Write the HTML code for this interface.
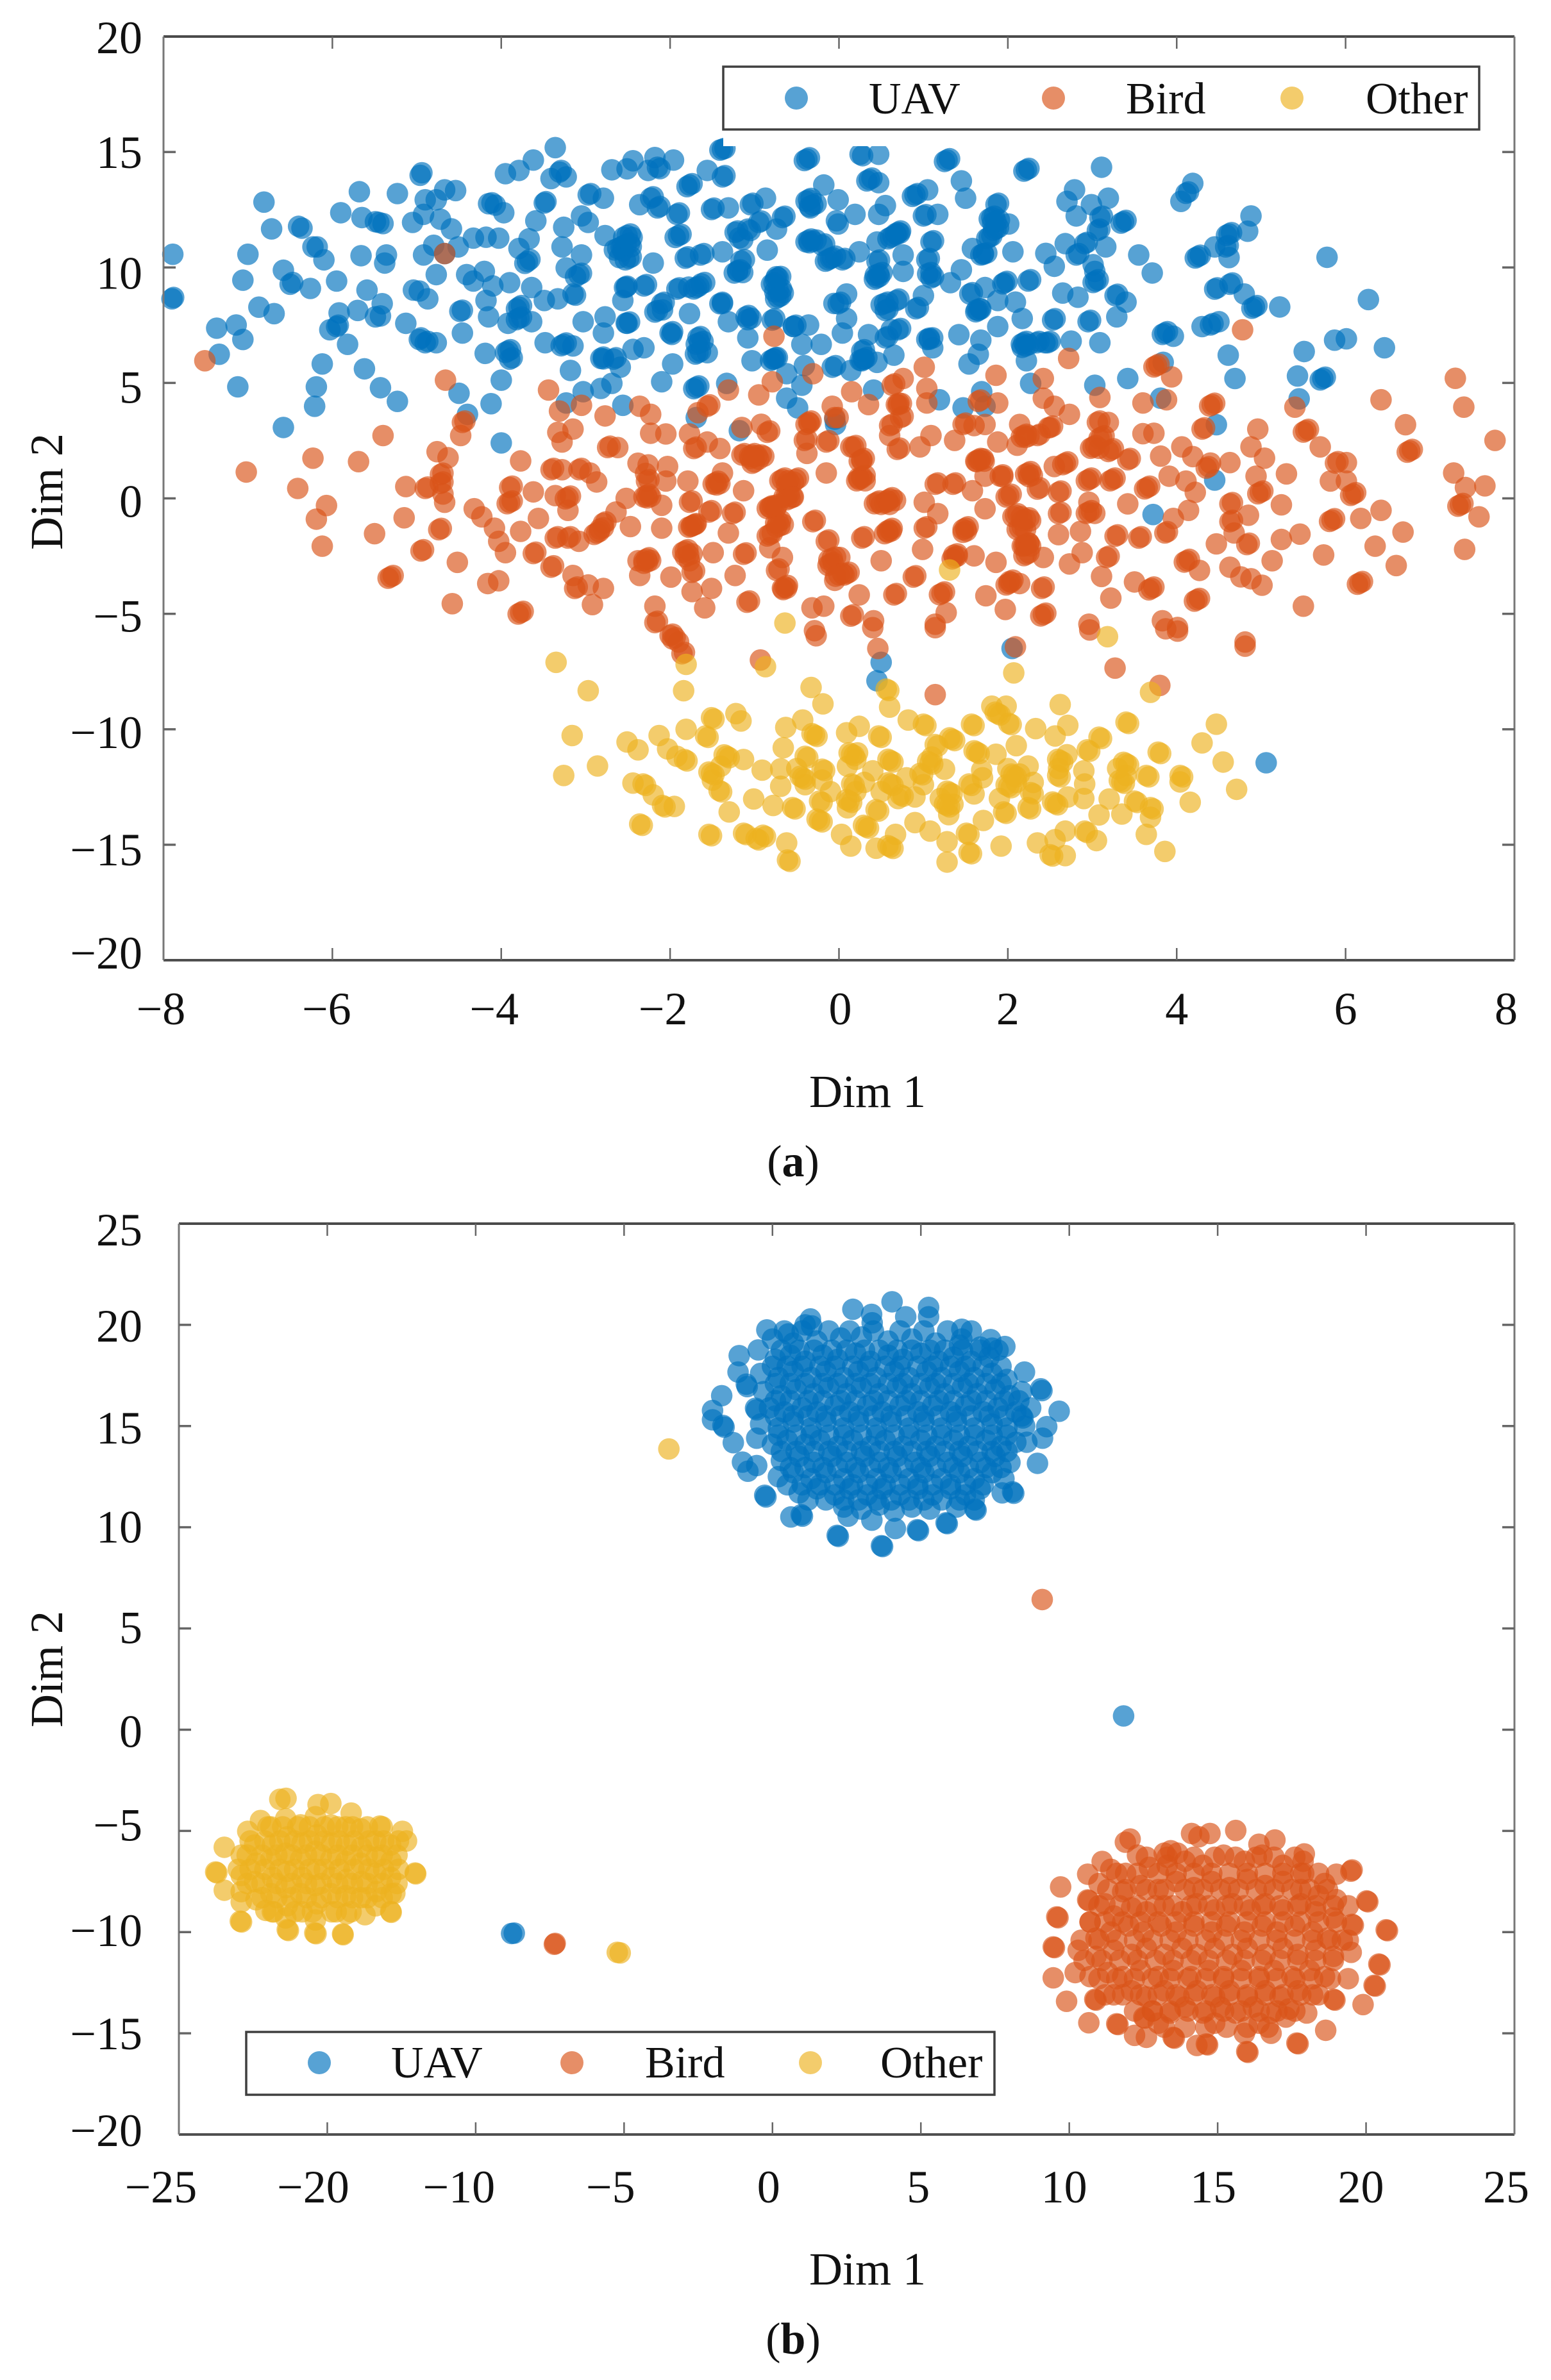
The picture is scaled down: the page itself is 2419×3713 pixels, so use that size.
<!DOCTYPE html>
<html lang="en">
<head>
<meta charset="utf-8">
<title>t-SNE feature scatter plots</title>
<style>
html,body{margin:0;padding:0;background:#fff}
svg{display:block}
text{font-family:"Liberation Serif",serif;fill:#111}
</style>
</head>
<body>
<svg id="figure" xmlns="http://www.w3.org/2000/svg" width="2419" height="3713" viewBox="0 0 2419 3713">
<rect x="0" y="0" width="2419" height="3713" fill="#fff"/>
<g id="panelA"></g>
<g id="panelB"></g>
<text x="1237" y="1835" font-size="70" text-anchor="middle">(<tspan font-weight="bold">a</tspan>)</text>
<text x="1237" y="3672" font-size="70" text-anchor="middle">(<tspan font-weight="bold">b</tspan>)</text>
</svg>
<script>
// ---------- Panel (a) data ----------
const xTicksA = [-8,-6,-4,-2,0,2,4,6,8];
const yTicksA = [20,15,10,5,0,-5,-10,-15,-20];
const xLabelsA = ["−8","−6","−4","−2","0","2","4","6","8"];
const yLabelsA = ["20","15","10","5","0","−5","−10","−15","−20"];
const uavA = [[-3.36,15.19],[-3.62,14.65],[-3.79,14.2],[-3.95,14.06],[-3.31,14.13],[-3.29,14.2],[-3.41,13.85],[-3.23,13.92],[-4.96,13.99],[-4.94,14.1],[-5.68,13.28],[-5.23,13.2],[-6.81,12.83],[-4.9,12.93],[-4.77,12.93],[-4.67,13.36],[-4.54,13.33],[-5.9,12.37],[-5.65,12.16],[-5.49,11.98],[-5.45,11.95],[-5.4,11.9],[-5.05,11.95],[-4.92,12.3],[-4.72,12.09],[-4.59,11.67],[-6.72,11.67],[-6.4,11.78],[-6.36,11.7],[-6.23,10.89],[-6.18,10.89],[-6.1,10.33],[-7,10.57],[-7.89,10.57],[-5.66,10.51],[-5.36,10.54],[-5.38,10.19],[-4.67,10.6],[-4.92,10.54],[-4.8,10.96],[-4.51,10.89],[-4.33,11.27],[-4.18,11.31],[-4.03,11.27],[-7.06,9.45],[-6.58,9.88],[-6.5,9.27],[-6.47,9.35],[-6.26,9.09],[-5.95,9.41],[-5.59,9.02],[-5.04,9.02],[-4.97,8.98],[-4.87,8.64],[-4.77,9.69],[-4.41,9.69],[-4.2,9.83],[-7.9,8.64],[-7.88,8.7],[-6.87,8.28],[-6.69,8],[-7.37,7.37],[-7.14,7.51],[-7.06,6.88],[-7.34,6.24],[-7.12,4.83],[-5.92,8.03],[-5.7,8.14],[-5.49,7.86],[-5.43,7.9],[-5.41,8.43],[-5.95,7.44],[-5.93,7.5],[-6.03,7.3],[-5.82,6.67],[-5.13,7.58],[-4.97,6.88],[-4.95,6.95],[-4.9,6.74],[-4.87,6.8],[-4.77,6.74],[-4.46,7.16],[-4.49,8.1],[-4.46,8.15],[-4.15,7.86],[-4.18,8.57],[-4.33,9.41],[-4.1,9.2],[-3.9,9.34],[-3.79,8.28],[-3.76,8.35],[-3.82,8.2],[-3.79,7.8],[-3.76,7.85],[-3.82,7.74],[-3.92,7.58],[-3.64,7.65],[-3.64,9.13],[-3.49,8.57],[-3.33,8.64],[-3.15,8.85],[-3.12,8.8],[-3.08,9.69],[-3.05,9.75],[-3.12,9.6],[-3.23,9.98],[-3.05,10.54],[-3.28,10.89],[-3.26,11.74],[-3.05,12.23],[-3.69,10.26],[-3.66,10.35],[-3.72,10.18],[-3.79,10.82],[-3.67,11.24],[-3.59,12.02],[-3.49,12.79],[-3.47,12.85],[-3.97,12.37],[-4.15,12.76],[-4.11,12.8],[-4.07,12.7],[-2.97,13.14],[-2.94,13.2],[-2.79,13],[-2.69,14.23],[-2.51,14.27],[-2.44,14.62],[-2.18,14.76],[-2.26,14.2],[-2.15,14.34],[-2.12,14.28],[-1.96,14.65],[-2.36,12.72],[-2.23,13],[-2.2,13.06],[-2.15,12.58],[-2.12,12.64],[-1.92,12.3],[-1.89,12.36],[-2.51,11.38],[-2.47,11.45],[-2.55,11.3],[-2.45,11.3],[-2.62,10.82],[-2.58,10.88],[-2.66,10.76],[-2.56,10.72],[-2.49,10.4],[-2.46,10.46],[-2.53,10.33],[-2.77,11.38],[-2.97,11.95],[-2.2,10.19],[-1.9,11.38],[-1.87,11.44],[-1.94,11.3],[-1.82,10.4],[-1.79,10.46],[-1.64,10.54],[-1.6,10.6],[-1.38,10.68],[-1.23,11.52],[-1.2,11.58],[-1.08,11.66],[-1.05,11.6],[-1.2,9.83],[-1.17,9.9],[-1.24,9.76],[-1.14,9.78],[-1.77,13.57],[-1.74,13.63],[-1.8,13.5],[-1.56,14.2],[-1.38,13.92],[-1.35,13.98],[-1.38,15.12],[-1.35,15.16],[-1.41,15.08],[-1.51,12.51],[-1.48,12.57],[-1.31,12.58],[-1.05,12.72],[-1.02,12.78],[-0.87,13],[-0.95,11.95],[-0.92,12.01],[-0.67,12.16],[-0.64,12.22],[-0.74,11.66],[-0.85,10.75],[-0.38,14.69],[-0.35,14.75],[-0.41,14.63],[-0.18,13.57],[-0.36,12.93],[-0.33,12.99],[-0.39,12.87],[-0.34,12.58],[-0.03,12.02],[-0.36,11.17],[-0.33,11.23],[-0.39,11.11],[-0.2,10.96],[-0.17,11.02],[-0.13,10.33],[-0.1,10.39],[-0.16,10.27],[-0.72,9.55],[-0.69,9.61],[-0.75,9.49],[-0.72,8.71],[-0.69,8.77],[-0.75,8.65],[-0.8,9.27],[-0.77,9.33],[-1.69,9.13],[-1.66,9.19],[-1.72,9.07],[-1.92,9.06],[-1.89,9.12],[-2.31,9.2],[-2.28,9.26],[-2.54,9.13],[-2.51,9.19],[-2.56,8.57],[-2.77,7.86],[-2.51,7.58],[-2.48,7.64],[-2.79,7.16],[-3.03,7.65],[-2.18,8.07],[-2.15,8.13],[-2.1,8.43],[-2.07,8.49],[-1.77,8],[-2,7.16],[-1.97,7.22],[-1.67,6.95],[-1.64,7.01],[-1.67,6.31],[-1.64,6.37],[-1.7,6.25],[-1.56,6.31],[-1.41,8.43],[-1.38,8.49],[-1.31,7.65],[-1.1,7.86],[-1.07,7.92],[-1.08,6.95],[-0.79,7.72],[-0.76,7.78],[-0.54,7.44],[-0.51,7.5],[-0.36,7.51],[-0.44,6.67],[-0.21,6.67],[-1.03,5.96],[-0.78,6.03],[-0.75,6.09],[-0.81,5.97],[-0.41,5.75],[-0.08,5.68],[-0.62,5.4],[-0.44,4.9],[-0.62,4.34],[-0.49,3.92],[-0.05,3.43],[-3.48,6.74],[-3.26,6.67],[-3.23,6.73],[-3.29,6.61],[-3.15,6.6],[-3.92,6.38],[-3.89,6.44],[-3.95,6.32],[-3.9,6.03],[-3.87,6.09],[-4.19,6.28],[-2.82,6.06],[-2.79,6.12],[-2.67,6.03],[-2.64,6.09],[-2.59,5.68],[-2.44,6.45],[-2.31,6.52],[-1.97,5.82],[-2.1,5.05],[-1.69,4.81],[-1.66,4.87],[-1.72,4.75],[-1.33,4.98],[-3.18,5.54],[-3.03,4.62],[-2.82,4.76],[-2.69,4.98],[-2.56,4.03],[-3.23,4.13],[-4,5.12],[-4.12,4.1],[-4.5,4.55],[-4.4,3.64],[-4,2.4],[-6.12,5.82],[-5.62,5.61],[-5.43,4.79],[-5.23,4.2],[-6.19,4.83],[-6.21,3.99],[-6.58,3.07],[-1.69,3.5],[-1.18,2.93],[0.25,14.9],[0.28,14.84],[0.47,14.9],[1.28,14.65],[1.31,14.71],[1.25,14.59],[2.22,14.23],[2.25,14.29],[2.19,14.17],[3.11,14.34],[0.36,13.81],[0.39,13.87],[0.33,13.75],[0.47,13.67],[1.45,13.75],[1.5,13],[0.9,13.14],[0.93,13.2],[0.87,13.08],[1.05,13.36],[0.55,12.68],[0.47,12.3],[0.19,12.3],[-0.01,12.93],[-0.01,11.88],[1,12.23],[1.03,12.29],[1.17,12.3],[1.86,12.72],[1.89,12.78],[1.81,12.16],[1.84,12.22],[1.78,12.1],[2.01,11.88],[1.86,11.67],[1.89,11.73],[1.83,11.61],[1.78,11.31],[1.81,11.37],[1.75,11.25],[2.79,13.36],[2.7,12.86],[2.81,12.23],[2.99,12.72],[3.19,13],[3.09,12.16],[3.12,12.22],[3.37,11.98],[3.4,12.04],[3.34,11.92],[3.06,11.6],[3.09,11.66],[3.16,10.89],[4.19,13.64],[4.11,13.21],[4.14,13.27],[4.05,12.86],[4.88,12.23],[4.84,11.57],[4.62,11.45],[4.65,11.51],[4.59,11.39],[4.58,10.89],[4.61,10.95],[4.45,10.89],[4.62,10.43],[4.25,10.47],[4.28,10.53],[4.22,10.41],[3.55,10.54],[3.71,9.76],[5.78,10.44],[6.27,8.61],[5.22,8.29],[4.92,8.29],[4.95,8.35],[4.89,8.23],[4.8,8.85],[4.63,9.27],[4.66,9.33],[4.45,9.06],[4.48,9.12],[4.5,7.65],[4.4,7.51],[4.43,7.57],[4.3,7.44],[3.86,7.16],[3.89,7.22],[3.83,7.1],[3.96,7.02],[3.27,8.78],[3.3,8.84],[3.4,8.5],[3.04,9.41],[3.07,9.47],[3.01,9.35],[3.03,9.83],[3.29,7.86],[2.95,7.65],[2.98,7.71],[3.09,6.74],[2.83,8.71],[2.65,8.89],[2.55,10.05],[2.45,10.61],[2.68,11.03],[2.81,10.54],[2.84,10.6],[2.91,11.03],[2.94,11.09],[3.01,10.12],[2.24,9.41],[2.27,9.47],[1.96,9.34],[1.99,9.4],[1.73,9.13],[2.06,10.68],[1.68,10.54],[1.71,10.6],[1.58,10.82],[1.45,9.9],[1.55,8.85],[1.58,8.91],[1.88,8.57],[2.09,8.5],[1.65,8.14],[1.68,8.2],[1.62,8.08],[1.88,7.44],[2.17,7.79],[2.53,7.72],[2.56,7.78],[1.42,7.09],[1.68,6.85],[1.65,6.24],[1.54,5.82],[2.19,6.74],[2.22,6.8],[2.16,6.68],[2.34,6.74],[2.37,6.8],[2.47,6.74],[2.5,6.8],[2.75,6.81],[2.22,5.96],[1.09,11.1],[1.12,11.16],[0.7,11.52],[0.73,11.58],[0.67,11.46],[0.58,11.24],[0.61,11.3],[0.45,11.1],[0.24,10.68],[0.04,10.33],[0.07,10.39],[0.45,10.26],[0.48,10.32],[0.45,9.55],[0.48,9.61],[0.42,9.49],[0.76,10.54],[0.76,9.83],[1.04,10.33],[1.07,10.39],[1.09,9.55],[1.12,9.61],[1.32,9.34],[1,8.78],[0.91,8.21],[0.94,8.27],[0.55,8.14],[0.58,8.2],[0.68,8.57],[0.71,8.63],[0.09,8.85],[-0.01,8.43],[0.02,8.49],[0.09,7.79],[0.04,7.16],[0.35,7.09],[0.55,6.95],[0.58,7.01],[0.7,7.3],[0.73,7.36],[1.04,6.88],[1.07,6.94],[1.11,6.52],[0.27,6.38],[0.3,6.44],[0.27,5.96],[0.3,6.02],[0.45,5.89],[0.65,6.2],[0.14,5.54],[-0.04,5.75],[0.41,4.69],[1.19,4.27],[1.69,4.62],[1.47,3.92],[1.73,3.99],[2.27,4.98],[3.03,4.9],[3.42,5.19],[3.84,5.89],[3.81,4.34],[4.47,3.19],[4.61,6.2],[4.69,5.19],[5.51,6.36],[5.43,5.3],[5.73,5.19],[5.76,5.25],[5.7,5.13],[5.45,4.31],[5.87,6.85],[6.01,6.91],[6.46,6.52],[4.45,0.79],[3.72,-0.7],[-0.04,3.2],[0.5,-7.1],[0.45,-7.9],[5.06,-11.45],[2.05,-6.5]];
const uavACore = [[-2.52,10.99],[-2.48,11.05],[-2.56,10.93],[-2.46,10.9],[-2.6,10.43],[-1.18,11.28],[-1.14,11.2],[-1.16,10.28],[-1.12,10.34],[-1.2,9.86],[-0.72,9.01],[-0.68,9.07],[-0.76,8.95],[-0.66,8.9],[-0.74,9.6],[-0.31,12.7],[-0.27,12.76],[-0.35,12.64],[-0.31,11.13],[-0.27,11.19],[-0.35,11.07],[-0.08,10.43],[-0.04,10.49],[0.68,11.42],[0.72,11.48],[0.64,11.36],[1.86,11.99],[1.9,12.05],[1.82,11.93],[1.71,10.57],[1.75,10.63],[0.47,9.72],[0.51,9.78],[0.43,9.66],[0.54,8.44],[0.58,8.5],[0.5,8.38],[1.05,9.72],[1.09,9.78],[1.63,8.16],[1.67,8.22],[1.94,9.29],[-2.52,9.15],[-1.78,9.15],[-1.63,9.29],[-1.59,9.35],[-2.09,8.16],[-2.52,7.59],[-1.98,7.1],[-1.65,6.74],[-1.61,6.8],[-1.69,6.68],[-2.79,6.04],[-1.38,8.44],[-1.08,7.74],[-1.04,7.8],[-0.77,6.04],[-0.73,6.1],[-0.54,7.45],[-0.06,8.44],[0.29,6.04],[0.33,6.1],[0.25,5.98],[0.62,7.31],[1.07,6.89],[1.11,6.95],[2.21,6.6],[2.25,6.66],[2.17,6.54],[2.44,6.74]];
const birdA = [[-7.51,5.96],[-4.67,10.6],[-0.77,7.02],[-0.31,5.4],[-4.66,5.12],[-3.44,4.69],[-3.31,3.78],[-3.05,4.03],[-2.77,3.57],[-2.36,3.99],[-2.23,3.64],[-1.31,4.69],[-0.79,5.05],[-0.95,4.48],[-1.56,3.99],[-1.53,4.05],[-1.67,3.71],[-4.46,3.29],[-4.43,3.35],[-4.48,2.72],[-5.4,2.72],[-1.15,3.07],[-0.92,3.21],[-0.85,2.86],[-0.82,2.92],[-0.36,3.29],[-0.33,3.35],[-0.05,3.5],[-0.08,3.99],[-3.33,2.86],[-3.15,3],[-3.28,2.44],[-2.23,2.82],[-2.05,2.79],[-1.77,2.79],[-2.74,2.2],[-2.71,2.26],[-2.62,2.2],[-1.72,2.16],[-1.69,2.22],[-1.56,2.44],[-1.41,2.16],[-1.03,1.88],[-1,1.94],[-1.06,1.82],[-1.15,1.88],[-1.12,1.94],[-0.92,1.88],[-0.89,1.82],[-1.03,1.52],[-1,1.58],[-0.41,2.51],[-0.38,2.57],[-0.15,2.44],[-0.12,2.5],[-0.38,1.95],[-4.76,2.02],[-4.63,1.76],[-6.23,1.74],[-5.69,1.59],[-3.77,1.62],[-7.02,1.14],[-4.72,1.03],[-4.69,1.09],[-4.72,0.65],[-4.69,0.71],[-5.13,0.51],[-4.9,0.43],[-4.87,0.49],[-4.69,0.19],[-4.67,-0.17],[-6.41,0.43],[-6.07,-0.31],[-6.19,-0.9],[-6.12,-2.07],[-5.15,-0.84],[-5.5,-1.53],[-4.74,-1.36],[-4.71,-1.3],[-4.95,-2.28],[-4.92,-2.22],[-4.52,-2.77],[-5.31,-3.4],[-5.28,-3.34],[-5.34,-3.46],[-4.58,-4.56],[-3.77,-4.95],[-3.74,-4.89],[-3.8,-5.01],[-4.16,-3.69],[-4.03,-3.57],[-3.9,0.47],[-3.87,0.53],[-3.9,-0.17],[-3.87,-0.11],[-3.93,-0.23],[-3.62,0.28],[-3.41,1.24],[-3.38,1.3],[-3.28,1.24],[-3.08,1.24],[-3.05,1.3],[-2.95,1.1],[-2.87,0.71],[-3.36,0.12],[-3.21,0.04],[-3.18,0.1],[-3.24,-0.02],[-3.21,-0.52],[-3.56,-0.87],[-3.77,-1.43],[-4.32,-0.45],[-4.23,-0.8],[-4.08,-1.29],[-4.03,-1.86],[-3.95,-2.35],[-3.62,-2.39],[-3.59,-2.33],[-3.41,-2.98],[-3.38,-2.92],[-3.36,-1.72],[-3.33,-1.66],[-3.21,-1.72],[-3.18,-1.66],[-3.08,-1.86],[-2.87,-1.5],[-2.84,-1.44],[-2.9,-1.56],[-2.79,-1.08],[-2.76,-1.02],[-2.64,-0.59],[-2.47,-1.22],[-2.52,0],[-2.38,1.52],[-2.26,1.45],[-2.28,0.75],[-2.25,0.81],[-2.28,0.12],[-2.25,0.18],[-2.31,0.06],[-2.03,1.38],[-2.05,0.75],[-1.79,0.75],[-1.46,0.68],[-1.43,0.74],[-1.49,0.62],[-1.38,1.1],[-1.13,0.33],[-0.67,0.82],[-0.64,0.88],[-0.7,0.76],[-0.6,0.76],[-0.51,0.82],[-0.48,0.88],[-0.62,0.12],[-0.59,0.18],[-0.65,0.06],[-0.55,0.06],[-0.82,-0.38],[-0.79,-0.32],[-0.85,-0.44],[-0.75,-0.44],[-0.15,1.1],[-2.1,-0.3],[-1.77,-0.17],[-1.74,-0.11],[-1.54,-0.59],[-1.51,-0.53],[-1.72,-1.15],[-1.69,-1.09],[-1.75,-1.21],[-2.1,-1.29],[-1.26,-0.66],[-1.23,-0.6],[-1.31,-1.5],[-1.82,-2.28],[-1.79,-2.22],[-1.85,-2.34],[-1.77,-2.7],[-2.28,-2.63],[-2.25,-2.57],[-2.31,-2.69],[-2.38,-2.7],[-2.36,-3.34],[-1.99,-3.41],[-1.74,-3.2],[-1.71,-3.14],[-1.74,-4.04],[-1.49,-2.35],[-1.51,-3.9],[-1.13,-2.42],[-1.1,-2.36],[-1.23,-3.34],[-1.59,-4.74],[-1.09,-4.5],[-1.06,-4.44],[-0.82,-1.57],[-0.79,-1.51],[-0.85,-1.63],[-0.72,-1.01],[-0.69,-0.95],[-0.75,-1.07],[-0.82,-2.14],[-0.67,-2.56],[-0.74,-3.12],[-0.71,-3.06],[-0.64,-3.83],[-0.61,-3.77],[-0.67,-3.89],[-0.31,-1.01],[-0.28,-0.95],[-0.15,-1.86],[-0.12,-1.8],[-0.1,-2.84],[-0.07,-2.78],[-0.13,-2.9],[-0.05,-3.55],[-2.18,-4.67],[-2.18,-5.38],[-2.15,-5.32],[-2,-5.94],[-1.97,-5.88],[-1.9,-6.22],[-0.32,-4.74],[-0.18,-4.67],[-0.29,-5.73],[-3.15,-3.34],[-3.13,-3.9],[-3.1,-3.84],[-2.79,-3.9],[-2.92,-4.6],[-2.97,-3.75],[1.01,5.68],[1.86,5.33],[2.72,6.06],[4.78,7.3],[3.76,5.75],[3.79,5.81],[3.73,5.69],[3.94,5.26],[7.3,5.2],[2.42,5.19],[0.76,5.19],[0.63,4.9],[0.66,4.96],[0.15,4.62],[1.04,4.76],[3.09,4.37],[3.6,4.13],[3.88,4.27],[4.42,4.06],[4.45,4.12],[4.39,4],[6.42,4.27],[5.4,3.95],[7.4,3.95],[1.65,4.2],[1.68,4.26],[1.88,4.13],[1.04,4.13],[0.35,4.06],[0.68,4.06],[0.71,4.12],[0.73,3.5],[0.76,3.56],[0.6,3.15],[0.63,3.21],[0.6,2.72],[-0.01,3.5],[1.47,3.2],[1.5,3.26],[1.73,3.2],[1.6,3.15],[2.42,4.34],[2.55,3.99],[2.73,3.64],[2.14,3.2],[2.5,3.07],[2.53,3.13],[2.19,2.72],[2.22,2.78],[2.16,2.66],[2.35,2.72],[2.38,2.78],[1.88,2.44],[2.11,2.3],[1.09,2.72],[0.96,2.23],[1.37,2.51],[0.69,2.12],[0.72,2.18],[0.17,2.23],[0.2,2.29],[3.06,3.29],[3.09,3.35],[3.19,3.29],[3.11,2.65],[3.14,2.71],[3.08,2.59],[3.01,2.23],[3.04,2.29],[2.98,2.17],[3.08,2.17],[3.22,2.09],[3.25,2.15],[3.19,2.03],[3.6,2.8],[3.73,2.82],[4.3,3],[4.33,3.06],[4.96,3],[5.53,2.93],[5.56,2.99],[5.5,2.87],[6.71,3.19],[6.76,2.06],[6.79,2.12],[6.73,2],[7.77,2.51],[4.06,2.23],[4.19,1.81],[3.81,1.83],[4.88,2.23],[5.04,1.74],[5.7,2.23],[4.63,1.55],[4.35,1.31],[4.38,1.37],[4.4,1.53],[5.3,1.06],[4.94,0.96],[4.99,0.26],[5.02,0.32],[4.96,0.2],[5.88,1.53],[5.91,1.59],[6.01,1.55],[5.82,0.75],[6.01,0.75],[6.09,0.19],[6.12,0.25],[6.06,0.13],[7.28,1.1],[7.42,0.47],[7.65,0.54],[7.36,-0.28],[7.39,-0.22],[7.33,-0.34],[7.58,-0.8],[5.24,-0.28],[6.42,-0.52],[5.84,-0.94],[5.87,-0.88],[5.81,-1],[6.18,-0.87],[6.68,-1.46],[5.46,-1.55],[5.24,-1.78],[6.35,-2.07],[7.41,-2.21],[6.6,-2.91],[5.74,-2.45],[6.17,-3.66],[6.2,-3.6],[6.14,-3.72],[5.5,-4.67],[5.13,-2.7],[5.01,-3.76],[4.88,-3.48],[4.76,-3.4],[4.63,-2.98],[4.47,-1.97],[4.83,-2],[4.86,-1.94],[4.68,-1.5],[4.63,-1.01],[4.66,-0.95],[4.63,-0.24],[4.66,-0.18],[4.85,-0.73],[4.24,-4.39],[4.27,-4.33],[4.21,-4.45],[4.12,-2.7],[4.15,-2.64],[4.09,-2.76],[4.27,-3.12],[3.7,-3.9],[3.73,-3.84],[3.67,-3.96],[3.5,-3.62],[3.22,-4.32],[3.11,-3.38],[3.17,-2.56],[3.2,-2.5],[2.88,-2.35],[2.73,-2.84],[3.83,-5.3],[4.01,-5.59],[4.81,-6.22],[2.96,-5.45],[2.42,-5.03],[2.45,-4.97],[2.39,-5.09],[1.97,-4.81],[1.74,-4.22],[1.27,-4.95],[1.14,-5.45],[1.22,-4.11],[1.25,-4.05],[1.19,-4.17],[0.65,-4.18],[0.68,-4.12],[0.41,-5.3],[0.14,-5.1],[0.17,-5.04],[0.24,-4.18],[2.01,-3.69],[2.04,-3.63],[1.98,-3.75],[2.4,-3.9],[2.43,-3.84],[2.14,-3.69],[1.86,-2.77],[2.42,-2.56],[2.22,-2.42],[2.25,-2.36],[2.19,-2.48],[1.6,-2.49],[0.88,-3.41],[0.91,-3.35],[0.5,-2.7],[0.99,-2.21],[1.37,-2.56],[1.4,-2.5],[1.34,-2.62],[1.5,-1.29],[1.53,-1.23],[1.47,-1.35],[1.01,-1.29],[1.04,-1.23],[1.17,-0.66],[0.6,-1.36],[0.63,-1.3],[0.57,-1.42],[0.27,-1.72],[0.3,-1.66],[0.09,-3.26],[0.12,-3.2],[0.06,-3.32],[0.01,-2.56],[0.6,-0.03],[0.63,0.03],[0.57,-0.09],[0.67,-0.09],[0.45,-0.17],[0.48,-0.11],[0.42,-0.23],[1.01,-0.17],[0.24,0.82],[0.27,0.88],[0.21,0.76],[0.31,0.76],[0.27,1.67],[0.3,1.73],[0.24,1.61],[0.14,2.23],[1.14,0.61],[1.17,0.67],[1.35,0.61],[1.38,0.67],[1.58,0.33],[1.65,1.67],[1.68,1.73],[1.62,1.61],[1.72,1.61],[1.73,0.96],[1.91,0.96],[1.94,1.02],[2.24,1.1],[2.27,1.16],[2.21,1.04],[2.01,0.12],[2.04,0.18],[1.98,0.06],[2.35,0.4],[2.38,0.46],[2.09,-0.73],[2.12,-0.67],[2.06,-0.79],[2.16,-0.79],[2.14,-1.29],[2.17,-1.23],[2.11,-1.35],[2.21,-1.35],[2.22,-2],[2.25,-1.94],[2.19,-2.06],[2.6,0.26],[2.63,0.32],[2.68,1.52],[2.71,1.58],[2.65,1.46],[2.55,1.38],[2.96,0.82],[2.99,0.88],[2.93,0.76],[3.24,0.82],[3.27,0.88],[3.21,0.76],[2.96,-0.59],[2.99,-0.53],[2.93,-0.65],[3.03,-0.65],[2.96,-0.17],[3.42,1.67],[3.45,1.73],[3.65,0.47],[3.68,0.53],[3.62,0.41],[3.91,0.96],[4.11,0.75],[4.22,0.26],[3.42,-0.24],[4.14,-0.52],[3.96,-0.87],[3.86,-1.5],[3.89,-1.44],[3.55,-1.72],[3.58,-1.66],[3.27,-1.64],[3.3,-1.58],[2.86,-1.43],[2.6,-0.66],[2.63,-0.6],[2.6,-1.57],[1.73,-0.45],[-0.27,-5.95],[-1.97,-6.09],[-1.94,-6.03],[-1.86,-6.73],[-1.83,-6.67],[-0.93,-7],[0.46,-6.5],[1.14,-8.5],[2.09,-6.43],[3.27,-7.35],[3.8,-8.1],[4.81,-6.4],[2.97,-5.7],[4.01,-5.75],[3.87,-5.65],[0.4,-5.6],[1.14,-5.6]];
const birdACore = [[-1.01,1.79],[-0.97,1.85],[-1.05,1.73],[-0.95,1.7],[-0.58,0.65],[-0.54,0.71],[-0.62,0.59],[-0.58,0],[-0.54,0.06],[-0.62,-0.06],[-0.77,-0.34],[-0.73,-0.28],[-0.81,-0.4],[-0.7,-1.19],[-0.66,-1.13],[-0.74,-1.25],[0.27,0.94],[0.31,1],[0.23,0.88],[0.27,1.65],[0.54,-0.2],[0.58,-0.14],[0.5,-0.26],[0.6,-0.26],[0.58,-1.47],[0.62,-1.41],[0.54,-1.53],[-0.08,-2.6],[-0.04,-2.54],[-0.12,-2.66],[0,-3.31],[0.04,-3.25],[-0.04,-3.37],[1.67,1.65],[1.71,1.71],[1.63,1.59],[2.21,-0.9],[2.25,-0.84],[2.17,-0.96],[2.27,-0.96],[2.21,-2],[2.25,-1.94],[2.17,-2.06],[2.27,-2.06],[2.25,0.94],[2.29,1],[1.94,0.94],[1.47,-1.47],[1.51,-1.41],[1.36,-2.46],[1.4,-2.4],[-1.74,-1.19],[-1.7,-1.13],[-1.78,-1.25],[-1.78,-2.46],[-1.74,-2.4],[-1.82,-2.52],[-2.27,0.02],[-2.23,0.08],[-2.29,1.08],[-1.45,0.58],[-1.41,0.64],[-2.83,-1.33],[-2.79,-1.27],[-2.27,-2.75],[-2.23,-2.69],[-2.31,-2.81],[-0.66,-3.95],[-0.62,-3.89],[-0.39,3.2],[-0.35,3.26],[0.7,4.05],[0.74,4.11],[2.21,2.64],[2.25,2.7],[2.48,3.06],[2.02,-3.6],[2.06,-3.54]];
const otherA = [[1.31,-3.1],[-0.64,-5.4],[3.18,-5.99],[-3.35,-7.1],[-1.81,-7.19],[-0.87,-7.29],[2.07,-7.56],[-2.97,-8.33],[-1.84,-8.33],[-0.33,-8.19],[-0.19,-8.9],[0.56,-8.26],[0.59,-8.32],[0.6,-9.04],[3.69,-8.4],[2.62,-8.93],[1.81,-9],[1.98,-9],[1.88,-9.32],[1.91,-9.38],[1.85,-9.26],[-1.51,-9.5],[-1.48,-9.56],[-1.22,-9.32],[-1.16,-9.64],[-3.16,-10.27],[-2.51,-10.55],[-2.38,-10.89],[-2.13,-10.27],[-1.81,-10],[-1.58,-10.29],[-1.55,-10.35],[-2.03,-10.85],[-1.83,-11.31],[-1.8,-11.37],[-1.92,-11.17],[-2.86,-11.59],[-3.26,-12],[-2.44,-12.33],[-2.32,-12.37],[-2.29,-12.43],[-2.2,-12.84],[-2.09,-13.3],[-2.06,-13.36],[-1.95,-13.34],[-2.36,-14.1],[-2.33,-14.16],[-1.54,-14.55],[-1.51,-14.61],[-1.13,-14.5],[-1.1,-14.56],[-0.98,-14.73],[-0.95,-14.79],[-0.9,-14.59],[-0.87,-14.65],[-0.62,-14.92],[-0.61,-15.66],[-0.58,-15.72],[1.28,-15.75],[1.54,-15.33],[1.57,-15.39],[0.61,-15.1],[0.64,-15.16],[0.58,-15.04],[0.44,-15.15],[0.14,-15.06],[0.03,-14.55],[0.32,-14.22],[0.35,-14.28],[0.29,-14.16],[0.67,-14.55],[0.9,-14.04],[1.08,-14.41],[1.28,-14.87],[1.51,-14.5],[1.54,-14.56],[1.71,-13.95],[1.92,-15.06],[2.35,-14.92],[2.5,-15.43],[2.53,-15.49],[2.68,-15.47],[2.56,-14.78],[2.68,-14.41],[2.91,-14.41],[2.94,-14.47],[3.05,-14.82],[3.64,-14.55],[3.86,-15.29],[3.69,-13.81],[3.35,-13.67],[3.08,-13.71],[4.16,-13.16],[4.71,-12.6],[4.55,-11.42],[4.3,-10.59],[4.47,-9.78],[4.04,-12],[4.07,-12.06],[4.04,-12.28],[3.78,-10.99],[3.81,-11.05],[3.64,-12],[3.67,-12.06],[3.69,-13.39],[3.72,-13.45],[3.5,-13.11],[3.53,-13.17],[3.4,-11.49],[3.43,-11.55],[3.37,-11.43],[3.35,-12.28],[3.38,-12.34],[3.32,-12.22],[3.2,-13.02],[3.08,-10.34],[3.11,-10.4],[2.94,-10.89],[2.97,-10.95],[3.4,-9.69],[3.43,-9.75],[2.71,-9.83],[2.33,-9.97],[2.56,-10.29],[2.62,-11.36],[2.65,-11.42],[2.59,-11.3],[2.59,-12],[2.62,-12.06],[2.91,-12.37],[2.56,-13.21],[2.59,-13.27],[2.53,-13.15],[2.71,-12.93],[2.24,-11.59],[2.07,-12],[2.1,-12.06],[2.04,-11.94],[2.14,-11.94],[2.01,-12.47],[2.04,-12.53],[1.98,-12.41],[2.27,-12.74],[2.3,-12.8],[2.24,-13.39],[2.27,-13.45],[1.95,-13.58],[1.98,-13.64],[2.1,-10.71],[2.01,-9.74],[2.04,-9.8],[1.57,-9.78],[1.6,-9.84],[1.63,-10.99],[1.66,-11.05],[1.6,-10.93],[1.86,-11.08],[1.69,-11.77],[1.54,-12.37],[1.57,-12.43],[1.28,-13.3],[1.31,-13.36],[1.25,-13.24],[1.35,-13.24],[1.31,-12.74],[1.34,-12.8],[1.28,-12.68],[1.25,-11.73],[1.08,-11.45],[1.11,-11.51],[1.05,-11.39],[0.96,-11.91],[0.99,-11.97],[1.34,-10.43],[1.37,-10.49],[1.31,-10.37],[1.14,-10.66],[1.17,-10.72],[1,-9.78],[1.03,-9.84],[0.82,-9.6],[0.61,-11.36],[0.64,-11.42],[0.58,-11.3],[0.61,-12.37],[0.64,-12.43],[0.58,-12.31],[0.73,-12.84],[0.76,-12.9],[0.44,-13.48],[0.47,-13.54],[0.9,-12.93],[0.15,-11.08],[0.18,-11.14],[0.12,-11.02],[0.22,-11.02],[0.15,-12.37],[0.18,-12.43],[0.12,-13.11],[0.15,-13.17],[0.09,-13.05],[0.47,-10.29],[0.5,-10.35],[0.24,-9.87],[0.09,-10.15],[0.3,-12.3],[-0.29,-10.25],[-0.26,-10.31],[-0.32,-10.19],[-0.43,-9.6],[-0.63,-9.92],[-0.66,-10.8],[-0.4,-11.17],[-0.37,-11.23],[-0.2,-11.73],[-0.17,-11.79],[-0.43,-12.1],[-0.4,-12.16],[-0.46,-12.04],[-0.69,-12.47],[-0.55,-13.39],[-0.52,-13.45],[-0.23,-13.95],[-0.2,-14.01],[-0.26,-13.89],[-0.23,-13.11],[-0.2,-13.17],[-1.01,-13.02],[-0.78,-13.3],[-1.3,-13.58],[-1.42,-12.65],[-1.39,-12.71],[-1.51,-11.91],[-1.48,-11.97],[-1.54,-11.85],[-1.33,-11.17],[-1.3,-11.23],[-1.36,-11.11],[-1.13,-11.31],[-0.91,-11.77],[-0.69,-11.71]];
const otherACore = [[0.2,-11.3],[0.1,-11.6],[1.1,-11.2],[1,-12.4],[1.3,-13.7],[1.2,-13],[2.1,-12.3],[2,-11.7],[2.7,-11.1],[2.6,-11.7],[3.4,-12],[3.3,-11.7],[-1.5,-12.2],[-1.4,-11.6],[-0.4,-12.4],[-0.5,-11.7],[0.1,-13.4],[0.2,-12.7],[0.7,-13],[0.8,-12.1],[1.6,-12.8],[1.7,-12.1],[-0.1,-12.7],[-0.2,-12.2],[0.4,-11.8],[0.5,-12.7],[1.9,-13],[2.3,-12.3],[2.9,-11.8],[2.9,-13]];

// ---------- Panel (b) data ----------
const xTicksB = [-25,-20,-10,-5,0,5,10,15,20,25];
const yTicksB = [25,20,15,10,5,0,-5,-10,-15,-20];
const xLabelsB = ["−25","−20","−10","−5","0","5","10","15","20","25"];
const yLabelsB = ["25","20","15","10","5","0","−5","−10","−15","−20"];
const uavB = [[4.03,21.14],[5.26,20.86],[5.26,20.4],[2.71,20.77],[3.34,20.52],[3.36,20.1],[4.49,20.4],[1.28,20.29],[1.32,19.95],[1.1,20],[6.38,19.78],[6.38,19.3],[-0.19,19.75],[7.35,19.27],[7.4,18.85],[7.83,18.93],[0.53,19.55],[-1.12,18.48],[-0.48,18.76],[8.49,17.67],[-1.16,17.67],[9.04,16.84],[9.08,16.75],[-0.88,17.07],[-0.85,16.95],[-1.71,16.5],[9.66,15.73],[-0.57,15.88],[-0.53,15.8],[-2.02,15.77],[-2.02,15.31],[-1.67,15.03],[-1.63,14.95],[-1.32,14.18],[9.24,14.97],[9.1,14.4],[8.93,13.16],[8.44,15.4],[8.57,14.2],[-0.53,14.4],[-1.01,13.22],[-0.83,12.77],[-0.53,13.05],[-0.26,11.58],[-0.22,11.5],[8.09,11.75],[8.13,11.68],[7.74,11.7],[0.62,10.51],[0.97,10.62],[1.01,10.55],[2.18,9.6],[2.22,9.55],[3.67,9.09],[3.71,9.05],[4.14,9.94],[4.88,9.88],[4.92,9.83],[5.85,10.22],[5.89,10.18],[6.82,10.9],[6.86,10.85],[2.55,10.55],[3.35,10.35],[0,19.3],[0.7,19.1],[1.5,19.2],[2.3,19.35],[3,19.4],[3.9,19.2],[4.7,19.3],[5.5,19.1],[6.3,19],[7,18.9],[0.1,18.3],[0.6,18.5],[1.1,18.2],[1.7,18.5],[2.2,18.3],[2.8,18.6],[3.3,18.2],[3.9,18.5],[4.4,18.3],[5,18.6],[5.6,18.2],[6.1,18.4],[6.7,18.2],[7.3,18.4],[-0.4,17.6],[0.2,17.4],[0.7,17.7],[1.3,17.4],[1.8,17.7],[2.4,17.4],[2.9,17.7],[3.5,17.4],[4.1,17.7],[4.6,17.4],[5.2,17.7],[5.7,17.4],[6.3,17.7],[6.8,17.4],[7.4,17.6],[7.9,17.3],[-0.3,16.7],[0.3,16.5],[0.8,16.8],[1.4,16.6],[1.9,16.9],[2.5,16.6],[3,16.9],[3.6,16.6],[4.2,16.9],[4.7,16.6],[5.3,16.9],[5.8,16.6],[6.4,16.9],[6.9,16.6],[7.5,16.8],[8,16.5],[8.4,16.7],[-0.1,15.9],[0.4,15.7],[1,15.9],[1.5,15.7],[2.1,16],[2.6,15.7],[3.2,16],[3.7,15.7],[4.3,16],[4.9,15.7],[5.4,16],[6,15.7],[6.5,16],[7.1,15.7],[7.6,15.9],[8.2,15.7],[8.7,15.9],[-0.4,15.1],[0.2,14.9],[0.7,15.2],[1.3,14.9],[1.8,15.2],[2.4,14.9],[2.9,15.2],[3.5,14.9],[4,15.2],[4.6,14.9],[5.1,15.2],[5.7,14.9],[6.2,15.2],[6.8,14.9],[7.4,15.1],[7.9,14.9],[8.5,15],[0,14.1],[0.5,14.3],[1.1,14.1],[1.6,14.3],[2.2,14],[2.7,14.3],[3.3,14],[3.8,14.3],[4.4,14],[5,14.3],[5.5,14],[6.1,14.3],[6.6,14],[7.2,14.3],[7.7,14],[8.2,14.2],[0.3,13.3],[0.9,13.5],[1.4,13.2],[2,13.5],[2.5,13.2],[3.1,13.5],[3.6,13.2],[4.2,13.5],[4.8,13.2],[5.3,13.5],[5.9,13.2],[6.4,13.5],[7,13.2],[7.5,13.5],[8,13.2],[0.2,12.5],[0.7,12.7],[1.3,12.4],[1.8,12.7],[2.4,12.4],[2.9,12.7],[3.5,12.4],[4,12.7],[4.6,12.4],[5.1,12.7],[5.7,12.4],[6.3,12.7],[6.8,12.4],[7.4,12.7],[7.8,12.4],[0.9,11.7],[1.5,11.9],[2.1,11.6],[2.6,11.9],[3.2,11.6],[3.7,11.9],[4.3,11.6],[4.9,11.9],[5.4,11.6],[6,11.9],[6.5,11.6],[7,11.9],[2.4,11],[3,10.9],[3.6,11.1],[4.1,10.8],[4.7,11],[5.3,10.9],[6.2,11]];
const uavBCore = [[0.4,19.7],[1,19.7],[1.9,19.7],[2.6,19.7],[3.4,19.7],[4.3,19.7],[5.1,19.7],[5.9,19.7],[6.7,19.7],[0.3,18.75],[0.9,18.75],[1.4,18.75],[2,18.75],[2.5,18.75],[3.1,18.75],[3.6,18.75],[4.2,18.75],[4.7,18.75],[5.3,18.75],[5.8,18.75],[6.4,18.75],[7,18.75],[7.6,18.75],[0,17.95],[0.5,17.95],[1,17.95],[1.6,17.95],[2.1,17.95],[2.7,17.95],[3.2,17.95],[3.8,17.95],[4.3,17.95],[4.9,17.95],[5.4,17.95],[6,17.95],[6.5,17.95],[7.1,17.95],[7.7,17.95],[0.1,17.1],[0.6,17.1],[1.1,17.1],[1.7,17.1],[2.2,17.1],[2.8,17.1],[3.3,17.1],[3.9,17.1],[4.4,17.1],[5,17.1],[5.5,17.1],[6.1,17.1],[6.6,17.1],[7.2,17.1],[7.7,17.1],[0.1,16.25],[0.6,16.25],[1.2,16.25],[1.7,16.25],[2.3,16.25],[2.8,16.25],[3.4,16.25],[3.9,16.25],[4.5,16.25],[5,16.25],[5.6,16.25],[6.1,16.25],[6.7,16.25],[7.2,16.25],[7.8,16.25],[8.3,16.25],[0.1,15.5],[0.7,15.5],[1.2,15.5],[1.8,15.5],[2.3,15.5],[2.9,15.5],[3.4,15.5],[4,15.5],[4.5,15.5],[5.1,15.5],[5.6,15.5],[6.2,15.5],[6.7,15.5],[7.3,15.5],[7.8,15.5],[8.4,15.5],[0.2,14.55],[0.8,14.55],[1.3,14.55],[1.9,14.55],[2.4,14.55],[3,14.55],[3.5,14.55],[4.1,14.55],[4.6,14.55],[5.2,14.55],[5.7,14.55],[6.3,14.55],[6.8,14.55],[7.4,14.55],[7.9,14.55],[0.3,13.75],[0.8,13.75],[1.4,13.75],[1.9,13.75],[2.5,13.75],[3,13.75],[3.6,13.75],[4.1,13.75],[4.7,13.75],[5.2,13.75],[5.8,13.75],[6.3,13.75],[6.9,13.75],[7.4,13.75],[7.9,13.75],[0.6,12.95],[1.1,12.95],[1.7,12.95],[2.2,12.95],[2.8,12.95],[3.3,12.95],[3.9,12.95],[4.4,12.95],[5,12.95],[5.5,12.95],[6.1,12.95],[6.6,12.95],[7.2,12.95],[7.7,12.95],[0.5,12.1],[1,12.1],[1.6,12.1],[2.1,12.1],[2.7,12.1],[3.2,12.1],[3.8,12.1],[4.3,12.1],[4.9,12.1],[5.4,12.1],[6,12.1],[6.5,12.1],[7.1,12.1],[1.2,11.35],[1.8,11.35],[2.4,11.35],[2.9,11.35],[3.5,11.35],[4,11.35],[4.6,11.35],[5.1,11.35],[5.7,11.35],[6.3,11.35],[6.8,11.35]];
const birdB = [[15.61,-4.98],[14.37,-5.29],[14.12,-5.13],[14.74,-5.13],[11.89,-5.56],[12.05,-5.4],[13.42,-5.98],[13.2,-6.1],[13.65,-6.1],[9.71,-7.77],[11.11,-6.51],[10.62,-7.14],[19.53,-6.93],[19.49,-6.99],[19,-7.14],[17.92,-6.14],[17.88,-6.5],[16.93,-5.45],[16.39,-5.66],[20.02,-8.46],[20.06,-8.5],[20.68,-9.89],[20.72,-9.93],[19.53,-9.62],[19.57,-9.66],[20.43,-11.58],[20.47,-11.62],[20.27,-12.63],[20.31,-12.67],[19.9,-13.58],[18.91,-13.32],[18.95,-13.36],[18.64,-14.85],[17.67,-15.48],[17.71,-15.52],[15.98,-15.9],[16.02,-15.94],[14.62,-15.53],[14.66,-15.57],[14.3,-15.6],[13.5,-15.2],[13.54,-15.24],[12.6,-15.2],[12.2,-15.1],[11.6,-14.53],[11.64,-14.57],[10.66,-14.48],[9.91,-13.42],[10.86,-13.32],[10.9,-13.36],[9.46,-12.26],[10.2,-12],[9.46,-10.73],[9.5,-10.77],[9.58,-9.25],[9.62,-9.29],[10.62,-8.41],[10.66,-8.45],[12.51,-14.21],[12.55,-14.25],[11.4,-6.9],[12.3,-6.2],[15.9,-15],[16.8,-15],[13,-14.5],[14.9,-14.5],[16.4,-14.5],[17.3,-14.2],[18,-14],[11,-7.6],[11.9,-7.1],[12.7,-6.8],[13.3,-6.7],[13.9,-6.5],[14.5,-6.7],[15.2,-6.2],[15.9,-6.5],[16.5,-6.2],[17.2,-6.7],[17.9,-7.1],[18.6,-7.6],[10.7,-9.5],[10.9,-10.3],[11.2,-8.6],[11.8,-8],[12.4,-7.7],[13,-7.9],[13.6,-7.5],[14.2,-7.8],[14.8,-7.5],[15.4,-7.8],[16,-7.4],[16.6,-7.7],[17.2,-7.5],[17.8,-7.9],[18.4,-8.2],[19,-8.4],[11.5,-9.2],[12.1,-8.8],[12.6,-9],[13.2,-8.7],[13.8,-9],[14.3,-8.6],[14.9,-8.9],[15.5,-8.6],[16.1,-8.9],[16.6,-8.6],[17.2,-8.9],[17.8,-8.6],[18.3,-9],[18.9,-9.3],[11.4,-10],[12,-9.7],[12.5,-10],[13.1,-9.7],[13.6,-10],[14.2,-9.7],[14.8,-10],[15.3,-9.7],[15.9,-10],[16.5,-9.7],[17,-10],[17.6,-9.7],[18.2,-10],[18.7,-10.3],[19.2,-10.4],[10.3,-10.9],[10.9,-11.2],[11.5,-10.9],[12.1,-11.1],[12.6,-10.8],[13.2,-11.1],[13.8,-10.8],[14.3,-11.1],[14.9,-10.8],[15.5,-11.1],[16,-10.8],[16.6,-11.1],[17.2,-10.8],[17.7,-11.1],[18.3,-10.9],[18.9,-11.2],[19.5,-11],[10.7,-12.2],[11.3,-12],[11.8,-12.2],[12.4,-11.9],[13,-12.2],[13.5,-11.9],[14.1,-12.2],[14.7,-11.9],[15.2,-12.2],[15.8,-11.9],[16.4,-12.2],[16.9,-11.9],[17.5,-12.2],[18.1,-11.9],[18.6,-12.2],[19.4,-12.3],[11.5,-13.1],[12.1,-12.9],[12.6,-13.2],[13.2,-12.9],[13.7,-13.2],[14.3,-12.9],[14.9,-13.2],[15.4,-12.9],[16,-13.2],[16.6,-12.9],[17.1,-13.2],[17.7,-12.9],[18.2,-13.1],[12.8,-13.9],[13.4,-14],[13.9,-13.7],[14.5,-14],[15.1,-13.7],[15.6,-14],[16.2,-13.7],[16.8,-14],[17.4,-13.8],[9.09,6.43],[-7.35,-10.6],[-7.32,-10.56]];
const birdBCore = [[12.6,-6.3],[13.3,-6.3],[14.2,-6.3],[14.9,-6.3],[15.6,-6.3],[16.3,-6.3],[16.9,-6.3],[17.6,-6.3],[11.6,-7.1],[12.3,-7.1],[13,-7.1],[13.6,-7.1],[14.2,-7.1],[14.8,-7.1],[15.4,-7.1],[16,-7.1],[16.6,-7.1],[17.2,-7.1],[17.8,-7.1],[18.4,-7.1],[11.3,-7.9],[11.9,-7.9],[12.6,-7.9],[13.2,-7.9],[13.9,-7.9],[14.5,-7.9],[15.1,-7.9],[15.7,-7.9],[16.3,-7.9],[16.9,-7.9],[17.5,-7.9],[18.1,-7.9],[18.7,-7.9],[11,-8.7],[11.7,-8.7],[12.3,-8.7],[12.9,-8.7],[13.5,-8.7],[14.1,-8.7],[14.7,-8.7],[15.3,-8.7],[15.9,-8.7],[16.5,-8.7],[17.1,-8.7],[17.7,-8.7],[18.3,-8.7],[18.9,-8.7],[19.4,-8.7],[10.7,-9.5],[11.2,-9.5],[11.8,-9.5],[12.4,-9.5],[13,-9.5],[13.6,-9.5],[14.2,-9.5],[14.8,-9.5],[15.4,-9.5],[16,-9.5],[16.6,-9.5],[17.2,-9.5],[17.8,-9.5],[18.4,-9.5],[19,-9.5],[10.4,-10.4],[11,-10.4],[11.6,-10.4],[12.2,-10.4],[12.8,-10.4],[13.4,-10.4],[14,-10.4],[14.6,-10.4],[15.2,-10.4],[15.8,-10.4],[16.4,-10.4],[17,-10.4],[17.6,-10.4],[18.2,-10.4],[18.8,-10.4],[19.4,-10.4],[10.5,-11.4],[11.1,-11.4],[11.7,-11.4],[12.3,-11.4],[12.9,-11.4],[13.5,-11.4],[14.1,-11.4],[14.7,-11.4],[15.3,-11.4],[15.9,-11.4],[16.5,-11.4],[17.1,-11.4],[17.7,-11.4],[18.3,-11.4],[18.9,-11.4],[11,-12.3],[11.6,-12.3],[12.2,-12.3],[12.8,-12.3],[13.4,-12.3],[14,-12.3],[14.6,-12.3],[15.2,-12.3],[15.8,-12.3],[16.4,-12.3],[17,-12.3],[17.6,-12.3],[18.2,-12.3],[18.8,-12.3],[11.2,-13.1],[11.8,-13.1],[12.4,-13.1],[13,-13.1],[13.6,-13.1],[14.2,-13.1],[14.8,-13.1],[15.4,-13.1],[16,-13.1],[16.6,-13.1],[17.2,-13.1],[17.8,-13.1],[18.4,-13.1],[12.2,-13.9],[12.8,-13.9],[13.4,-13.9],[14,-13.9],[14.6,-13.9],[15.2,-13.9],[15.8,-13.9],[16.4,-13.9],[17,-13.9],[17.6,-13.9],[13.2,-14.7],[13.9,-14.7],[14.6,-14.7],[15.3,-14.7],[16,-14.7],[16.7,-14.7]];
const otherB = [[-21.39,-3.39],[-21.6,-3.44],[-20.31,-3.7],[-19.76,-3.65],[-18.39,-4.12],[-16.45,-4.76],[-14.94,-5.02],[-14.66,-5.5],[-22.25,-4.49],[-22.68,-5.02],[-23.47,-5.81],[-23.76,-7.03],[-23.72,-7.07],[-14.08,-7.08],[-14.04,-7.12],[-23.47,-7.93],[-22.9,-8.51],[-22.93,-9.46],[-22.89,-9.5],[-22.07,-8.93],[-21.35,-9.88],[-21.31,-9.92],[-20.42,-10.04],[-20.38,-10.08],[-18.97,-10.09],[-18.93,-10.13],[-17.46,-9.14],[-15.73,-8.98],[-15.69,-9.02],[-15.45,-8.08],[-22.9,-6.2],[-22.9,-7.2],[-22.9,-8],[-22.45,-5.7],[-22.4,-6.6],[-22.45,-7.5],[-22.4,-8.4],[-21.9,-4.8],[-21.85,-5.7],[-21.9,-6.4],[-21.85,-7.3],[-21.9,-8.1],[-21.85,-9],[-21.4,-4.4],[-21.35,-5.3],[-21.4,-6.1],[-21.35,-7],[-21.4,-7.8],[-21.35,-8.7],[-21.4,-9.3],[-20.9,-4.7],[-20.85,-5.6],[-20.9,-6.4],[-20.85,-7.3],[-20.9,-8.1],[-20.85,-9],[-20.4,-4.3],[-20.35,-5.2],[-20.4,-6],[-20.35,-6.9],[-20.4,-7.7],[-20.35,-8.6],[-20.4,-9.4],[-19.76,-4.7],[-19.7,-5.6],[-19.76,-6.4],[-19.7,-7.3],[-19.76,-8.1],[-19.7,-9],[-18.75,-4.8],[-18.7,-5.7],[-18.75,-6.5],[-18.7,-7.4],[-18.75,-8.2],[-18.7,-9.1],[-17.74,-4.9],[-17.7,-5.8],[-17.74,-6.6],[-17.7,-7.5],[-17.74,-8.3],[-16.74,-5.5],[-16.7,-6.3],[-16.74,-7.1],[-16.7,-8],[-16.74,-8.7],[-15.73,-5.7],[-15.7,-6.5],[-15.73,-7.3],[-15.7,-8.1],[-3.49,13.87],[-5.23,-11],[-5.13,-11.03]];
const otherBCore = [[-22,-4.8],[-21.5,-4.8],[-21,-4.8],[-20.6,-4.8],[-20.1,-4.8],[-19.3,-4.8],[-18.3,-4.8],[-17.3,-4.8],[-16.3,-4.8],[-22.6,-5.5],[-22.1,-5.5],[-21.6,-5.5],[-21.1,-5.5],[-20.6,-5.5],[-20.1,-5.5],[-19.2,-5.5],[-18.2,-5.5],[-17.2,-5.5],[-16.2,-5.5],[-15.2,-5.5],[-22.7,-6.2],[-22.2,-6.2],[-21.7,-6.2],[-21.2,-6.2],[-20.7,-6.2],[-20.2,-6.2],[-19.3,-6.2],[-18.3,-6.2],[-17.3,-6.2],[-16.3,-6.2],[-15.3,-6.2],[-23,-6.9],[-22.6,-6.9],[-22.1,-6.9],[-21.6,-6.9],[-21.1,-6.9],[-20.6,-6.9],[-20.1,-6.9],[-19.2,-6.9],[-18.2,-6.9],[-17.2,-6.9],[-16.2,-6.9],[-15.2,-6.9],[-22.7,-7.6],[-22.2,-7.6],[-21.7,-7.6],[-21.2,-7.6],[-20.7,-7.6],[-20.2,-7.6],[-19.3,-7.6],[-18.3,-7.6],[-17.3,-7.6],[-16.3,-7.6],[-15.3,-7.6],[-22.2,-8.3],[-21.7,-8.3],[-21.2,-8.3],[-20.7,-8.3],[-20.2,-8.3],[-19.3,-8.3],[-18.3,-8.3],[-17.3,-8.3],[-16.3,-8.3],[-21.8,-9],[-21.1,-9],[-20.5,-9],[-19.4,-9],[-18.4,-9]];
const soloUavB = [[11.83,0.68],[-8.79,-10.07],[-8.7,-10.05]];

// ---------- Axis functions ----------
const boxA = {left:255, right:2362, top:57, bottom:1498};
const boxB = {left:279, right:2362, top:1909, bottom:3330};
const xA = v => boxA.left + (v - xTicksA[0]) / (xTicksA[xTicksA.length-1] - xTicksA[0]) * (boxA.right - boxA.left);
const yA = v => boxA.top + (yTicksA[0] - v) / (yTicksA[0] - yTicksA[yTicksA.length-1]) * (boxA.bottom - boxA.top);
const yB = v => boxB.top + (yTicksB[0] - v) / (yTicksB[0] - yTicksB[yTicksB.length-1]) * (boxB.bottom - boxB.top);
// the printed x ticks of panel (b) are evenly spaced but skip −15, so the scale runs tick to tick
function xB(v){
  const n = xTicksB.length - 1;
  let i = 0;
  while (i < n - 1 && v > xTicksB[i+1]) i++;
  const f = (v - xTicksB[i]) / (xTicksB[i+1] - xTicksB[i]);
  return boxB.left + (i + f) / n * (boxB.right - boxB.left);
}

const NS = 'http://www.w3.org/2000/svg';
const colors = {uav:'#0072BD', bird:'#D95319', other:'#EDB120'};
const MARK_R = 16.8;
const MARK_OPACITY = 0.66;

function make(parent, tag, attrs, text){
  const el = document.createElementNS(NS, tag);
  for (const k in attrs) el.setAttribute(k, attrs[k]);
  if (text !== undefined) el.textContent = text;
  parent.appendChild(el);
  return el;
}

function drawMarks(parent, points, color, fx, fy, name){
  const g = make(parent, 'g', {fill:color, 'fill-opacity':MARK_OPACITY});
  
  
  points.forEach(p => {
    const c = make(g, 'circle', {cx:fx(p[0]).toFixed(1), cy:fy(p[1]).toFixed(1), r:MARK_R});
    
    
  });
}

function drawAxes(parent, box, xTicks, yTicks, xLabels, yLabels, fx, fy, xNudge, yNudge, xBase, title1Base, title2Y){
  const g = make(parent, 'g', {});
  
  
  const frame = [
    [box.left, box.top, box.right, box.top, 4, '#4a4a4a'],
    [box.left, box.bottom, box.right, box.bottom, 4, '#4f4f4f'],
    [box.left, box.top, box.left, box.bottom, 3, '#777'],
    [box.right, box.top, box.right, box.bottom, 3, '#777']
  ];
  frame.forEach(f => {
    const l = make(g, 'line', {x1:f[0], y1:f[1], x2:f[2], y2:f[3], stroke:f[5], 'stroke-width':f[4]});
    
    
  });
  xTicks.forEach((v, i) => {
    const x = fx(v);
    if (i > 0 && i < xTicks.length - 1) {
      const t1 = make(g, 'line', {x1:x, y1:box.top, x2:x, y2:box.top + 19, stroke:'#666', 'stroke-width':2.5});
      
      
      const t2 = make(g, 'line', {x1:x, y1:box.bottom, x2:x, y2:box.bottom - 19, stroke:'#666', 'stroke-width':2.5});
      
      
    }
    const lab = make(g, 'text', {x:x + xNudge[i], y:xBase, 'font-size':72, 'text-anchor':'middle'}, xLabels[i]);
    
    
  });
  yTicks.forEach((v, i) => {
    const y = fy(v);
    if (i > 0 && i < yTicks.length - 1) {
      const t1 = make(g, 'line', {x1:box.left, y1:y, x2:box.left + 19, y2:y, stroke:'#666', 'stroke-width':3.5});
      
      
      const t2 = make(g, 'line', {x1:box.right, y1:y, x2:box.right - 19, y2:y, stroke:'#666', 'stroke-width':3.5});
      
      
    }
    const lab = make(g, 'text', {x:222, y:y + yNudge[i] + 25, 'font-size':72, 'text-anchor':'end'}, yLabels[i]);
    
    
  });
  const xt = make(g, 'text', {x:1353, y:title1Base, 'font-size':72, 'text-anchor':'middle'}, 'Dim 1');
  
  
  const yt = make(g, 'text', {x:0, y:0, 'font-size':72, 'text-anchor':'middle', transform:'translate(97 ' + title2Y + ') rotate(-90)'}, 'Dim 2');
  
  
}

function drawLegend(parent, x, y, w, h, maskH, markerX, textX, markerY, textY){
  const g = make(parent, 'g', {});
  
  
  if (maskH > h) make(g, 'rect', {x:x, y:y, width:w, height:maskH, fill:'#fff'});
  const r = make(g, 'rect', {x:x, y:y, width:w, height:h, fill:'#fff', stroke:'#3f3f3f', 'stroke-width':3.5});
  
  
  const names = ['UAV', 'Bird', 'Other'];
  const cols = [colors.uav, colors.bird, colors.other];
  names.forEach((n, i) => {
    const m = make(g, 'circle', {cx:markerX[i], cy:markerY, r:18, fill:cols[i], 'fill-opacity':MARK_OPACITY});
    
    
    const t = make(g, 'text', {x:textX[i], y:textY, 'font-size':70}, n);
    
    
  });
}

// ---------- Panel (a) ----------
const panelA = document.getElementById('panelA');
const xLabelNudgeA = [-4,-9,-11,-11,2,0,0,0,-13];
const yLabelNudgeA = [1,0,8,6,4,3,4,7,-12];
drawMarks(panelA, uavA, colors.uav, xA, yA, 'uav');
drawMarks(panelA, uavACore, colors.uav, xA, yA, 'uav-dense');
drawMarks(panelA, birdA, colors.bird, xA, yA, 'bird');
drawMarks(panelA, birdACore, colors.bird, xA, yA, 'bird-dense');
drawMarks(panelA, otherA, colors.other, xA, yA, 'other');
drawMarks(panelA, otherACore, colors.other, xA, yA, 'other-dense');
drawAxes(panelA, boxA, xTicksA, yTicksA, xLabelsA, yLabelsA, xA, yA, xLabelNudgeA, yLabelNudgeA, 1598, 1727, 767);
drawLegend(panelA, 1128, 104, 1179, 98, 124, [1242,1643,2015], [1355,1756,2130], 153, 177);

// ---------- Panel (b) ----------
const panelB = document.getElementById('panelB');
const xLabelNudgeB = [-28,-22,-26,-21,-6,-4,-8,-7,-8,-13];
const yLabelNudgeB = [9,1,2,-1,-2,2,-10,-3,0,-7];
drawMarks(panelB, uavB, colors.uav, xB, yB, 'uav');
drawMarks(panelB, uavBCore, colors.uav, xB, yB, 'uav-dense');
drawMarks(panelB, soloUavB, colors.uav, xB, yB, 'uav-outlier');
drawMarks(panelB, birdB, colors.bird, xB, yB, 'bird');
drawMarks(panelB, birdBCore, colors.bird, xB, yB, 'bird-dense');
drawMarks(panelB, otherB, colors.other, xB, yB, 'other');
drawMarks(panelB, otherBCore, colors.other, xB, yB, 'other-dense');
drawAxes(panelB, boxB, xTicksB, yTicksB, xLabelsB, yLabelsB, xB, yB, xLabelNudgeB, yLabelNudgeB, 3436, 3564, 2604);
drawLegend(panelB, 384, 3170, 1167, 98, 98, [498,892,1264], [610,1006,1373], 3218, 3241);
</script>
</body>
</html>
